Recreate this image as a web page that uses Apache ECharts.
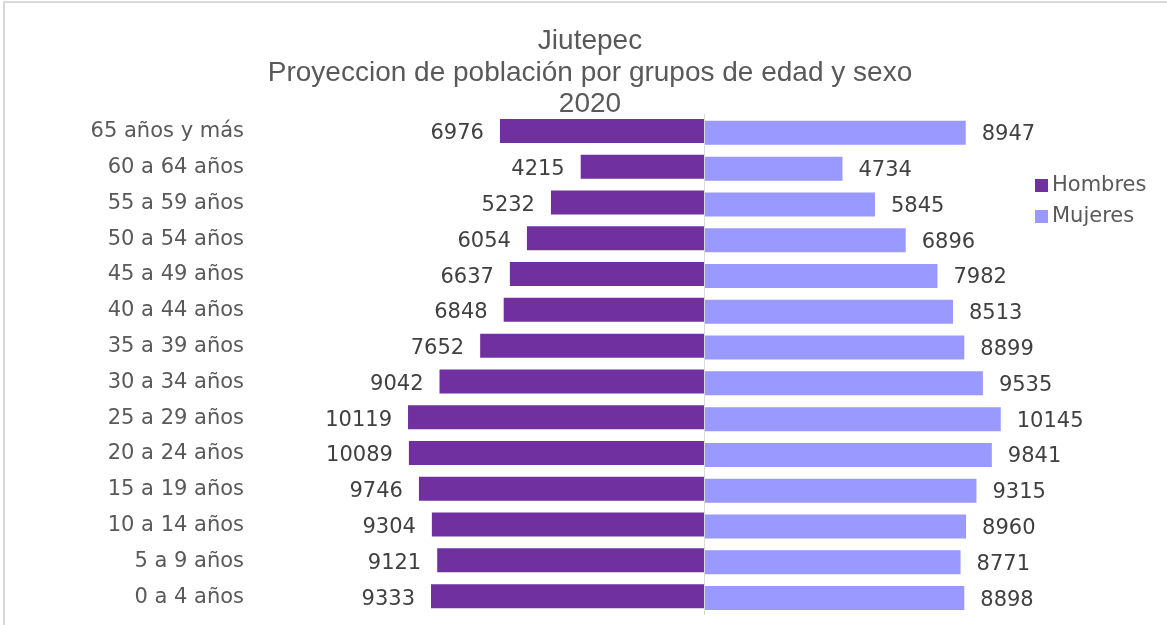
<!DOCTYPE html>
<html>
<head>
<meta charset="utf-8">
<title>Jiutepec 2020</title>
<script src="https://cdn.jsdelivr.net/npm/echarts@6/dist/echarts.min.js"></script>
<style>
  html, body { margin: 0; padding: 0; background: #fff; }
  #chart { width: 1167px; height: 625px; }
</style>
</head>
<body>
<div id="chart"></div>
<script>
// age groups, top to bottom as in the picture
const ageGroups = [
  '65 años y más', '60 a 64 años', '55 a 59 años', '50 a 54 años', '45 a 49 años',
  '40 a 44 años', '35 a 39 años', '30 a 34 años', '25 a 29 años', '20 a 24 años',
  '15 a 19 años', '10 a 14 años', '5 a 9 años', '0 a 4 años'
];
const hombres = [6976, 4215, 5232, 6054, 6637, 6848, 7652, 9042, 10119, 10089, 9746, 9304, 9121, 9333];
const mujeres = [8947, 4734, 5845, 6896, 7982, 8513, 8899, 9535, 10145, 9841, 9315, 8960, 8771, 8898];

const FONT = 'DejaVu Sans';

const chart = echarts.init(document.getElementById('chart'));

chart.setOption({
  backgroundColor: '#fff',
  animation: false,
  title: {
    text: 'Jiutepec\nProyeccion de población por grupos de edad y sexo\n2020',
    left: 590,
    textAlign: 'center',
    top: 26,
    padding: 0,
    textStyle: { color: '#595959', fontFamily: 'Liberation Sans', fontSize: 28, fontWeight: 'normal', lineHeight: 31.5 }
  },
  legend: {
    orient: 'vertical',
    left: 1035,
    top: 175,
    padding: 0,
    itemGap: 10,
    itemWidth: 13,
    itemHeight: 13,
    icon: 'rect',
    textStyle: { color: '#595959', fontFamily: FONT, fontSize: 21, lineHeight: 21, padding: [0, 0, 0, -1] },
    data: ['Hombres', 'Mujeres']
  },
  graphic: [{
    type: 'rect',
    silent: true,
    shape: { x: 4, y: 2, width: 1180, height: 640 },
    style: { fill: 'none', stroke: '#d9d9d9', lineWidth: 2 }
  }],
  grid: { left: 353, right: 112, top: 114, bottom: 10 },
  xAxis: {
    type: 'value',
    min: -12000,
    max: 12000,
    show: false
  },
  yAxis: {
    type: 'category',
    inverse: true,
    data: ageGroups,
    axisLine: { show: false },
    axisTick: { show: false },
    axisLabel: { color: '#595959', fontFamily: FONT, fontSize: 21, margin: 109, padding: [4, 0, 0, 0] }
  },
  series: [
    {
      name: 'Hombres',
      type: 'bar',
      data: hombres.map(v => -v),
      barWidth: 24,
      barGap: '-92%',
      itemStyle: { color: '#7030A0' },
      label: {
        show: true,
        position: 'left',
        distance: 16,
        offset: [0, 3],
        color: '#404040',
        fontFamily: FONT,
        fontSize: 21,
        formatter: p => Math.abs(p.value)
      }
    },
    {
      name: 'Mujeres',
      type: 'bar',
      data: mujeres,
      barWidth: 24,
      itemStyle: { color: '#9999FF' },
      label: {
        show: true,
        position: 'right',
        distance: 16,
        offset: [0, 2],
        color: '#404040',
        fontFamily: FONT,
        fontSize: 21
      },
      markLine: {
        silent: true,
        symbol: 'none',
        label: { show: false },
        lineStyle: { color: '#d9d9d9', width: 1, type: 'solid' },
        data: [{ xAxis: 0 }]
      }
    }
  ]
});
</script>
</body>
</html>
